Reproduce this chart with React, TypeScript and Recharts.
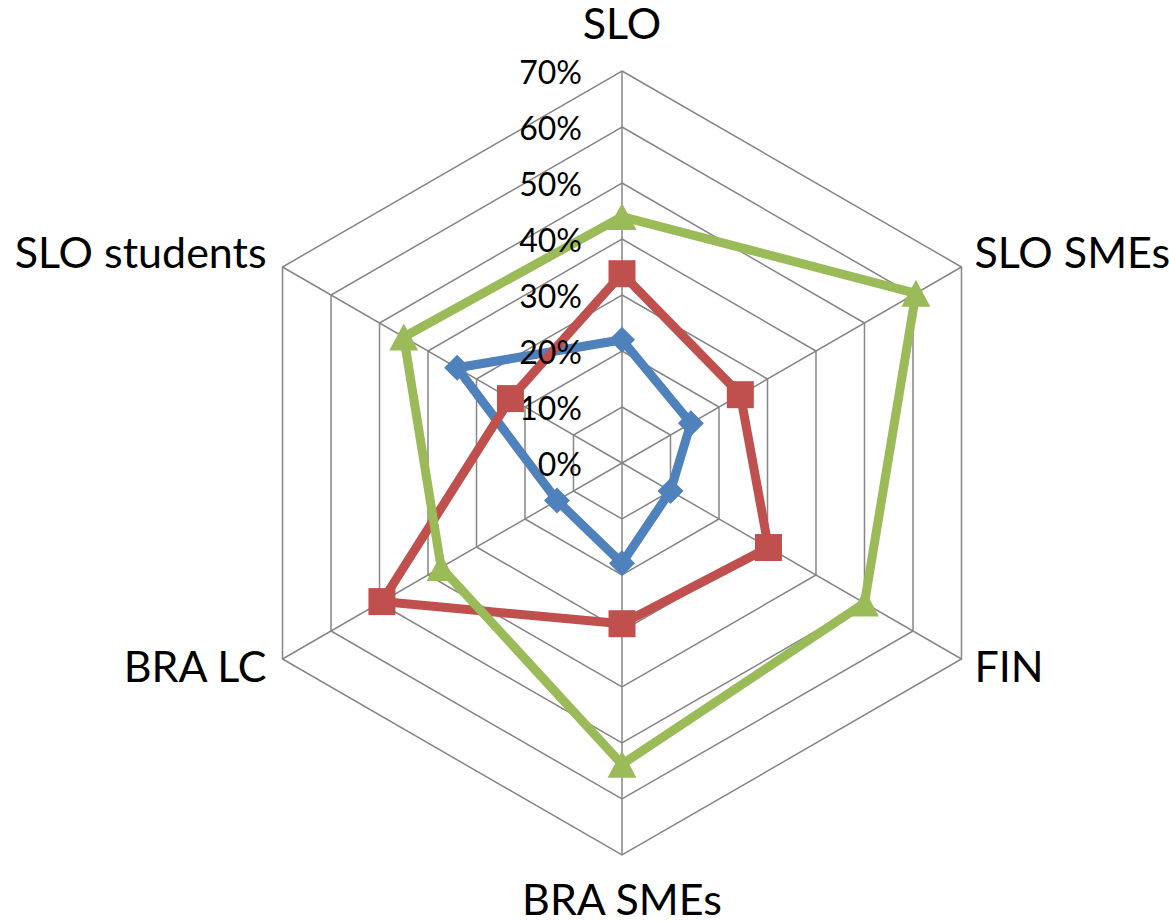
import { RadarChart, Radar, PolarGrid, PolarAngleAxis, PolarRadiusAxis } from 'recharts';

const categories = ['SLO', 'SLO SMEs', 'FIN', 'BRA SMEs', 'BRA LC', 'SLO students'];
const blueSeries = [22, 14.2, 10, 17.9, 13.4, 34];
const redSeries = [33.8, 24.4, 30.2, 28.7, 49.5, 23];
const greenSeries = [44, 60.6, 50, 53.8, 37.3, 45];
const radiusMax = 70;
const radiusTickCount = 8;

const data = categories.map((name, i) => ({
  name,
  blue: blueSeries[i],
  red: redSeries[i],
  green: greenSeries[i],
}));

const CX = 622;
const CY = 463;
const FONT = 'Lato, "Open Sans", sans-serif';

const BLUE = '#4F81BD';
const RED = '#C0504D';
const GREEN = '#9BBB59';

function AngleTick(props: any) {
  const { x, y, payload } = props;
  const dx = x - CX;
  const dy = y - CY;
  let anchor = 'middle';
  let tx = x;
  let ty = y;
  if (Math.abs(dx) < 1) {
    ty = dy < 0 ? y - 24 : y + 52;
  } else if (dx > 0) {
    anchor = 'start';
    tx = x + 6;
    ty = dy < 0 ? y + 5 : y + 19;
  } else {
    anchor = 'end';
    tx = x - 9;
    ty = dy < 0 ? y + 5 : y + 19;
  }
  return (
    <text x={tx} y={ty} textAnchor={anchor} fontSize={43} fontFamily={FONT} fill="#000">
      {payload.value}
    </text>
  );
}

function RadiusTick(props: any) {
  const { x, y, payload } = props;
  return (
    <text
      x={x - 40}
      y={y}
      textAnchor="end"
      dominantBaseline="central"
      fontSize={32}
      fontFamily={FONT}
      fill="#000"
    >
      {`${Math.round(payload.value)}%`}
    </text>
  );
}

function diamondDot(p: any) {
  const { cx, cy } = p;
  const s = 13;
  return (
    <path
      key={`d-${p.index}`}
      d={`M${cx},${cy - s}L${cx + s},${cy}L${cx},${cy + s}L${cx - s},${cy}Z`}
      fill={BLUE}
      stroke="none"
    />
  );
}

function squareDot(p: any) {
  const { cx, cy } = p;
  const s = 13.5;
  return <rect key={`s-${p.index}`} x={cx - s} y={cy - s} width={s * 2} height={s * 2} fill={RED} stroke="none" />;
}

function triangleDot(p: any) {
  const { cx, cy } = p;
  return (
    <path
      key={`t-${p.index}`}
      d={`M${cx},${cy - 13.5}L${cx + 14.5},${cy + 13.5}L${cx - 14.5},${cy + 13.5}Z`}
      fill={GREEN}
      stroke="none"
    />
  );
}

export default function App() {
  return (
    <div style={{ position: 'absolute', left: 0, top: 0, width: 1169, height: 923, background: '#fff' }}>
      <RadarChart
        width={1169}
        height={923}
        data={data}
        cx={CX}
        cy={CY}
        outerRadius={392}
        margin={{ top: 0, right: 0, bottom: 0, left: 0 }}
      >
        <PolarGrid gridType="polygon" stroke="#868686" strokeWidth={1.5} />
        <PolarAngleAxis dataKey="name" tick={AngleTick} tickLine={false} axisLine={false} />
        <Radar
          dataKey="blue"
          stroke={BLUE}
          strokeWidth={9}
          strokeLinejoin="round"
          fill="none"
          fillOpacity={0}
          dot={diamondDot}
          isAnimationActive={false}
        />
        <Radar
          dataKey="red"
          stroke={RED}
          strokeWidth={9}
          strokeLinejoin="round"
          fill="none"
          fillOpacity={0}
          dot={squareDot}
          isAnimationActive={false}
        />
        <Radar
          dataKey="green"
          stroke={GREEN}
          strokeWidth={9}
          strokeLinejoin="round"
          fill="none"
          fillOpacity={0}
          dot={triangleDot}
          isAnimationActive={false}
        />
        <PolarRadiusAxis
          angle={90}
          domain={[0, radiusMax]}
          tickCount={radiusTickCount}
          axisLine={false}
          tickLine={false}
          tick={RadiusTick}
        />
      </RadarChart>
    </div>
  );
}
